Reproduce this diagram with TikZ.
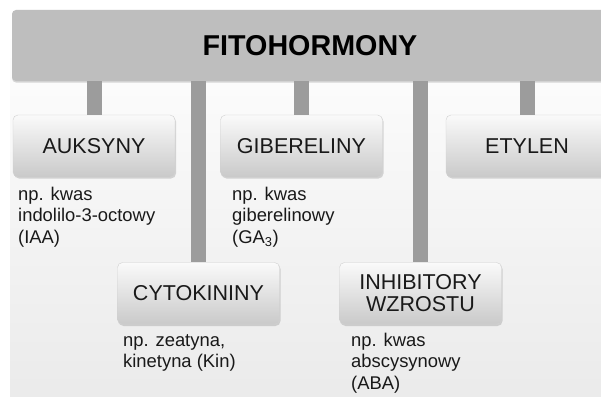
\documentclass[tikz,border=0pt]{standalone}
\usepackage{fontspec}
\setmainfont{Liberation Sans}
\usetikzlibrary{shadows}
\definecolor{barGray}{HTML}{BEBEBE}
\definecolor{linkGray}{HTML}{9C9C9C}

\begin{document}
\begin{tikzpicture}[x=1pt,y=1pt,
  hormon/.style={rounded corners=5pt,draw=black!18,top color=black!2,bottom color=black!21,
    minimum width=162pt,minimum height=62pt,inner sep=0pt,align=center,
    font=\fontsize{21.5}{22}\selectfont,text=black!90,
    drop shadow={opacity=0.3,shadow xshift=1pt,shadow yshift=-1.5pt}},
  przyklad/.style={anchor=base west,inner sep=0pt,align=left,
    font=\fontsize{18.4}{21.7}\selectfont,text=black!90},
  link/.style={draw=linkGray,line width=15pt}]
\useasboundingbox (0,0) rectangle (601,-396);
\clip (0,0) rectangle (601,-396);
\fill[top color=white,bottom color=black!8] (10,-10) rectangle (601,-396);

\node[rounded corners=4pt,fill=barGray,minimum width=596pt,minimum height=71pt,
  drop shadow={opacity=0.3,shadow xshift=0pt,shadow yshift=-1.5pt},
  font=\bfseries\fontsize{28.7}{30}\selectfont] (fito) at (310,-45.5) {FITOHORMONY};

\node[hormon] (aux) at (94,-146) {AUKSYNY};
\node[hormon] (gib) at (301.5,-146) {GIBERELINY};
\node[hormon] (ety) at (527,-146) {ETYLEN};
\node[hormon] (cyto) at (198.5,-293.5) {CYTOKININY};
\node[hormon] (inhib) at (420.5,-293.5) {INHIBITORY\\WZROSTU};

\draw[link] (aux.north |- fito.south) -- (aux.north);
\draw[link] (cyto.north |- fito.south) -- (cyto.north);
\draw[link] (gib.north |- fito.south) -- (gib.north);
\draw[link] (inhib.north |- fito.south) -- (inhib.north);
\draw[link] (ety.north |- fito.south) -- (ety.north);

\node[przyklad] (auxTxt) at (18,-243.4) {np. kwas\\indolilo-3-octowy\\(IAA)};
\node[przyklad] (gibTxt) at (232,-243.4) {np. kwas\\giberelinowy\\(GA\textsubscript{3})};
\node[przyklad] (cytoTxt) at (123,-367.7) {np. zeatyna,\\kinetyna (Kin)};
\node[przyklad] (inhibTxt) at (351,-389.4) {np. kwas\\abscysynowy\\(ABA)};
\end{tikzpicture}
\end{document}
